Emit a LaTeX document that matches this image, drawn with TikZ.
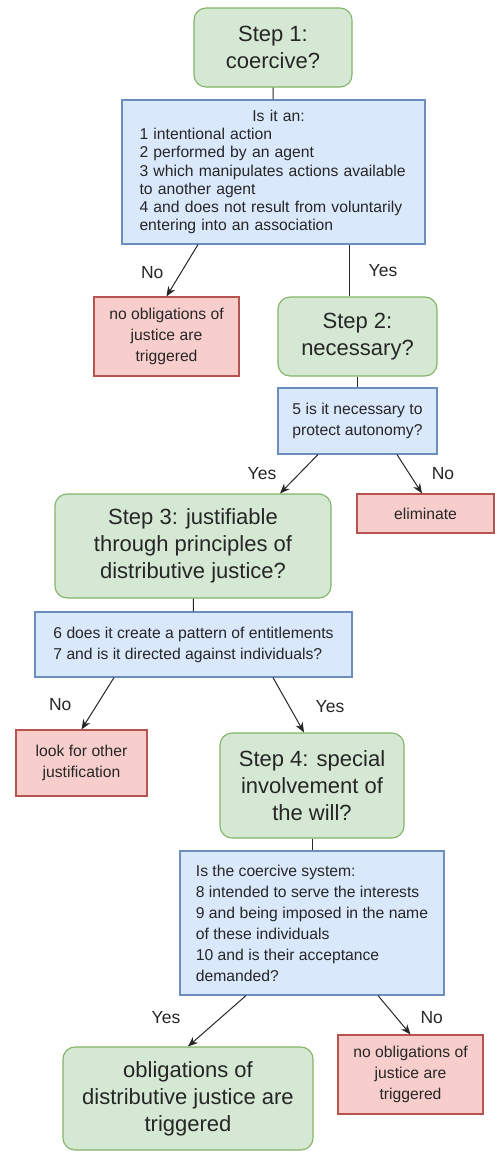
\documentclass[tikz,border=0pt]{standalone}
\usepackage{fontspec}
\setmainfont{Liberation Sans}
\usetikzlibrary{arrows.meta}
\definecolor{leafgreen}{HTML}{D5E8D4}
\definecolor{leafedge}{HTML}{82B366}
\definecolor{skyblue}{HTML}{DAE8FC}
\definecolor{skyedge}{HTML}{6C8EBF}
\definecolor{rosered}{HTML}{F8CECC}
\definecolor{roseedge}{HTML}{B85450}
\tikzset{
  stage/.style={
    rounded corners=12pt,
    draw=leafedge,
    fill=leafgreen,
    line width=1.1pt,
    align=center,
    inner sep=4pt,
    text=black!85,
    font=\fontsize{22}{27}\selectfont
  },
  query/.style={
    draw=skyedge,
    fill=skyblue,
    line width=1.1pt,
    align=left,
    inner sep=4pt,
    text=black!85,
    font=\fontsize{15.7}{21}\selectfont
  },
  verdict/.style={
    draw=roseedge,
    fill=rosered,
    line width=1.1pt,
    align=center,
    inner sep=4pt,
    text=black!85,
    font=\fontsize{15.7}{21}\selectfont
  },
  answer/.style={
    text=black!85,
    font=\fontsize{17.5}{21}\selectfont
  },
  link/.style={
    line width=1pt,
    black!85
  },
  arrow/.style={
    -{Stealth[length=10pt,width=8pt]},
    line width=1pt,
    black!85
  }
}

\begin{document}
\begin{tikzpicture}[x=1pt,y=-1pt]
\useasboundingbox (0,0) rectangle (495,1151);
\node[stage,minimum width=158pt,minimum height=79pt] (s1) at (273,47.5) {Step 1:\\coercive?};
\node[query,minimum width=303pt,minimum height=144pt,text width=268pt,font=\fontsize{15.7}{18.3}\selectfont] (q1) at (273.5,172) {\makebox[\hsize]{\hspace{10pt}Is it an:}\\1 intentional action\\2 performed by an agent\\3 which manipulates actions available\\to another agent\\4 and does not result from voluntarily\\entering into an association};
\node[verdict,minimum width=145pt,minimum height=79pt] (r1) at (166.5,336.5) {no obligations of\\justice are\\triggered};
\node[stage,minimum width=159pt,minimum height=79pt] (s2) at (357.5,336.5) {Step 2:\\necessary?};
\node[query,minimum width=159pt,minimum height=66pt] (q2) at (357.5,421) {5 is it necessary to\\protect autonomy?};
\node[verdict,minimum width=137pt,minimum height=39pt] (e) at (425.5,513.5) {eliminate};
\node[stage,minimum width=276pt,minimum height=104pt] (s3) at (193,546) {Step 3: justifiable\\through principles of\\distributive justice?};
\node[query,minimum width=317pt,minimum height=65pt] (q3) at (193.5,644.5) {6 does it create a pattern of entitlements\\7 and is it directed against individuals?};
\node[verdict,minimum width=131pt,minimum height=66pt] (lk) at (81.5,763) {look for other\\justification};
\node[stage,minimum width=184pt,minimum height=105pt] (s4) at (312,785.5) {Step 4: special\\involvement of\\the will?};
\node[query,minimum width=264pt,minimum height=144pt] (q4) at (312,923) {Is the coercive system:\\8 intended to serve the interests\\9 and being imposed in the name\\of these individuals\\10 and is their acceptance\\demanded?};
\node[stage,minimum width=250pt,minimum height=103pt] (f) at (188,1098.5) {obligations of\\distributive justice are\\triggered};
\node[verdict,minimum width=145pt,minimum height=79pt] (r2) at (410.5,1074.5) {no obligations of\\justice are\\triggered};
\draw[link] (s1) -- (q1);
\draw[arrow] ([xshift=-75.5pt]q1.south) -- (r1.north) node[answer,midway,xshift=-30pt,yshift=-2pt] (n1) {No};
\draw[link] ([xshift=75.5pt]q1.south) -- ([xshift=-8.5pt]s2.north) node[answer,midway,xshift=34pt] (y1) {Yes};
\draw[link] (s2) -- (q2);
\draw[arrow] ([xshift=-39.5pt]q2.south) -- ([xshift=87pt]s3.north) node[answer,midway,xshift=-37pt] (y2) {Yes};
\draw[arrow] ([xshift=39.5pt]q2.south) -- ([xshift=-3.5pt]e.north) node[answer,midway,xshift=33.5pt] (n2) {No};
\draw[link] (s3) -- (q3);
\draw[arrow] ([xshift=-79.5pt]q3.south) -- (lk.north) node[answer,midway,xshift=-37.5pt,yshift=-1.5pt] (n3) {No};
\draw[arrow] ([xshift=79.5pt]q3.south) -- ([xshift=-8pt]s4.north) node[answer,midway,xshift=41.5pt,yshift=-1.5pt] (y3) {Yes};
\draw[link] (s4) -- (q4);
\draw[arrow] ([xshift=-66pt]q4.south) -- (f.north) node[answer,midway,xshift=-51pt,yshift=3pt] (y4) {Yes};
\draw[arrow] ([xshift=66pt]q4.south) -- (r2.north) node[answer,midway,xshift=37.5pt,yshift=-3pt] (n4) {No};
\end{tikzpicture}
\end{document}
